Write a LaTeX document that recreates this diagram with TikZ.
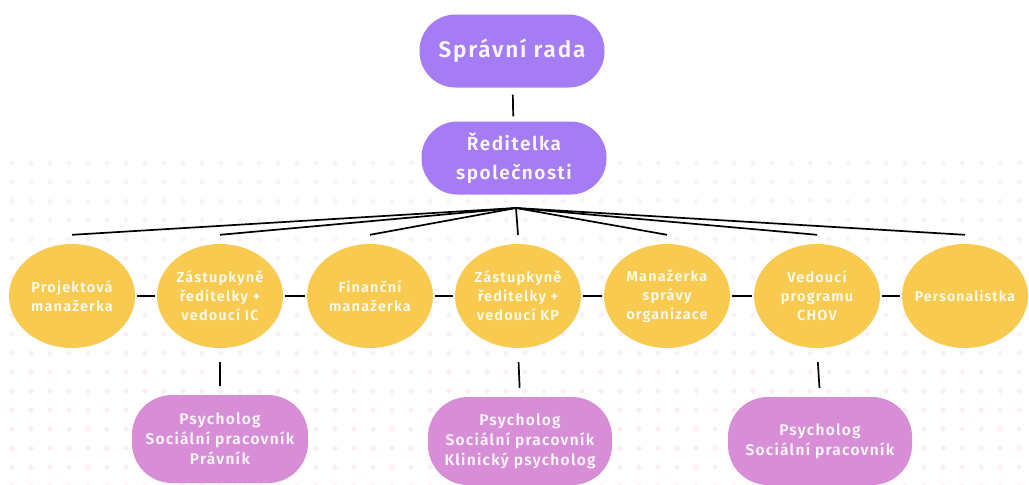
\documentclass[tikz,border=0pt]{standalone}
\usepackage{fontspec}
\setmainfont{Fira Sans}[BoldFont={Fira Sans SemiBold},LetterSpace=8]
\usetikzlibrary{shapes.geometric}
\definecolor{vedeni}{HTML}{A57CF4}
\definecolor{useky}{HTML}{F8CB50}
\definecolor{tymy}{HTML}{D78ED7}
\definecolor{dotup}{HTML}{F6F5F6}
\definecolor{dotdn}{HTML}{FCEAF9}
\tikzset{
  lead/.style={fill=vedeni,rounded corners=36pt,minimum width=185pt,minimum height=73pt,
    text=white!94!vedeni,font=\bfseries,align=center,inner sep=0pt},
  unit/.style={ellipse,fill=useky,minimum width=126pt,minimum height=104pt,inner sep=0pt,
    text=white!90!useky,font=\bfseries\fontsize{14.5}{19}\selectfont,align=center},
  team/.style={fill=tymy,rounded corners=40pt,minimum height=88pt,inner sep=0pt,
    text=white!92!tymy,font=\bfseries\fontsize{15.5}{20}\selectfont,align=center},
  link/.style={line width=1.7pt,black}
}
\begin{document}
\begin{tikzpicture}[x=1pt,y=-1pt]
\useasboundingbox[fill=white] (0,0) rectangle (1029,485);
%% faint dot background
\foreach \r in {0,...,17}{
  \pgfmathtruncatemacro{\mix}{\r*100/17}
  \foreach \c in {0,...,53}{
    \fill[dotdn!\mix!dotup] (12+\c*19,163+\r*19) +(0,-3) -- +(3,0) -- +(0,3) -- +(-3,0) -- cycle;
  }
}
%% top of the chart
\node[lead,font=\bfseries\fontsize{22.5}{26}\selectfont] (rada) at (512,51) {Správní rada};
\node[lead,font=\bfseries\fontsize{19}{29}\selectfont] (reditelka) at (514,158) {Ředitelka\\společnosti};
\coordinate (hub) at (516,208);
%% second level
\node[unit] (projekt) at (72,296)  {Projektová\\manažerka};
\node[unit] (zastIC)  at (220,296) {Zástupkyně\\ředitelky +\\vedoucí IC};
\node[unit] (financ)  at (370,296) {Finanční\\manažerka};
\node[unit] (zastKP)  at (518,296) {Zástupkyně\\ředitelky +\\vedoucí KP};
\node[unit] (sprava)  at (667,296) {Manažerka\\správy\\organizace};
\node[unit] (chov)    at (817,296) {Vedoucí\\programu\\CHOV};
\node[unit,font=\bfseries\fontsize{14}{19}\selectfont] (person) at (965,296) {\makebox[0pt]{Personalistka}};
%% teams
\node[team,minimum width=176pt] (tymIC)   at (220,439) {Psycholog\\Sociální pracovník\\Právník};
\node[team,minimum width=184pt] (tymKP)   at (520,441) {Psycholog\\Sociální pracovník\\Klinický psycholog};
\node[team,minimum width=184pt] (tymCHOV) at (820,441) {Psycholog\\Sociální pracovník};
%% connectors
\draw[link,shorten <=7pt,shorten >=5pt] (rada) -- (reditelka);
\foreach \u in {projekt,zastIC,financ,zastKP,sprava,chov,person}
  \draw[link] (hub) -- ([yshift=9pt]\u.north);
\draw[link,shorten <=2pt,shorten >=2pt] (projekt) -- (zastIC);
\draw[link,shorten <=2pt,shorten >=2pt] (zastIC) -- (financ);
\draw[link,shorten <=2pt,shorten >=2pt] (financ) -- (zastKP);
\draw[link,shorten <=2pt,shorten >=2pt] (zastKP) -- (sprava);
\draw[link,shorten <=2pt,shorten >=2pt] (sprava) -- (chov);
\draw[link,shorten <=2pt,shorten >=2pt] (chov) -- (person);
\draw[link,shorten <=14pt,shorten >=9pt] (zastIC.south) -- (tymIC.north);
\draw[link,shorten <=14pt,shorten >=9pt] (zastKP.south) -- (tymKP.north);
\draw[link,shorten <=14pt,shorten >=9pt] (chov.south) -- (tymCHOV.north);
\end{tikzpicture}
\end{document}
